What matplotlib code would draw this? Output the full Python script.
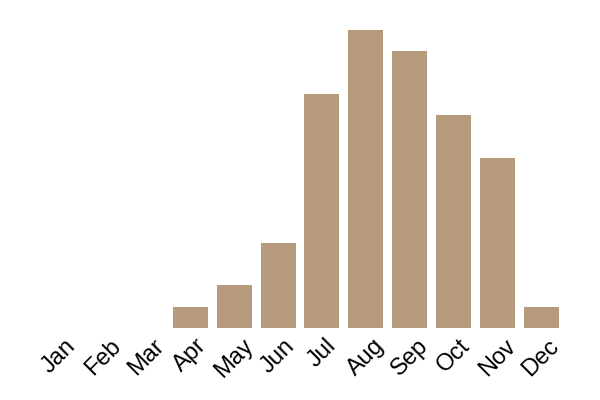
import matplotlib
matplotlib.use("Agg")
import matplotlib.pyplot as plt

months = ["Jan", "Feb", "Mar", "Apr", "May", "Jun",
          "Jul", "Aug", "Sep", "Oct", "Nov", "Dec"]
counts = [0, 0, 0, 1, 2, 4, 11, 14, 13, 10, 8, 1]

plt.rcParams['font.family'] = ['Liberation Sans', 'DejaVu Sans']

fig = plt.figure(figsize=(6, 4), dpi=100)
ax = fig.add_axes([37 / 600, 72 / 400, 526 / 600, 298 / 400])
ax.bar(range(len(months)), counts, width=0.8, color="#b59b7c")
ax.set_xlim(-0.5, 11.5)
ax.set_ylim(0, 14)
ax.set_xticks(range(len(months)))
ax.set_xticklabels(months, rotation=45, ha="center", fontsize=17)
ax.tick_params(axis="x", length=0, pad=5)
ax.set_yticks([])
for s in ax.spines.values():
    s.set_visible(False)

fig.savefig("out.png", dpi=100)
